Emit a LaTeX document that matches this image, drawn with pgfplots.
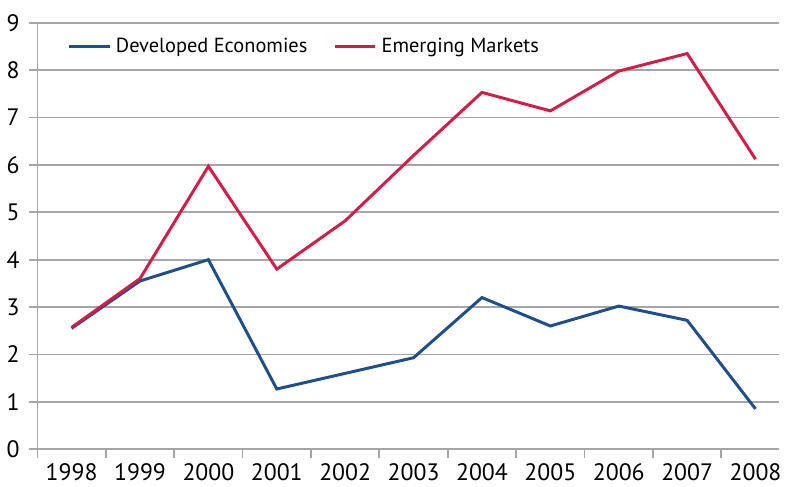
\documentclass[border=0pt]{standalone}
\usepackage{pgfplots}
\pgfplotsset{compat=1.18}
\usepackage{fontspec}
\setmainfont{PT Sans}
\definecolor{devblue}{RGB}{31,78,140}
\definecolor{emred}{RGB}{208,30,74}
\definecolor{gridgray}{RGB}{166,166,166}
\begin{document}
\begin{tikzpicture}
\begin{axis}[
  scale only axis,
  width=375pt, height=215.5pt,
  xmin=-0.5, xmax=10.35,
  ymin=0, ymax=9,
  ytick={0,1,...,9},
  xtick={-0.5,0.5,...,9.5},
  xticklabels={},
  extra x ticks={0,1,...,10},
  extra x tick labels={1998,1999,2000,2001,2002,2003,2004,2005,2006,2007,2008},
  extra x tick style={major tick length=0pt, grid=none},
  axis x line*=bottom,
  axis y line*=left,
  axis line style={gridgray, line width=0.9pt},
  tick style={gridgray, line width=0.9pt},
  major tick length=4.5pt,
  tick align=outside,
  ymajorgrids,
  major grid style={gridgray, line width=0.9pt},
  tick label style={font=\fontsize{12}{14}\selectfont, black},
  /pgf/number format/assume math mode=true,
  yticklabel style={xshift=-1pt},
  xticklabel style={yshift=-3.5pt},
  legend style={at={(rel axis cs:0.04,0.944)}, anchor=west, draw=none, fill=none,
    inner sep=0pt, font=\fontsize{10.3}{13}\selectfont, legend columns=2,
    /tikz/every even column/.append style={column sep=11pt}},
  legend image code/.code={\draw[#1] (0pt,0pt) -- (20.5pt,0pt); \path (21pt,0pt);},
  clip=false,
]
\addplot[devblue, line width=1.5pt] coordinates {
  (0,2.55) (1,3.55) (2,4.0) (3,1.27) (4,1.6) (5,1.93) (6,3.2) (7,2.6) (8,3.02) (9,2.72) (10,0.85)};
\addlegendentry{Developed Economies}
\addplot[emred, line width=1.5pt] coordinates {
  (0,2.57) (1,3.6) (2,5.97) (3,3.8) (4,4.82) (5,6.2) (6,7.53) (7,7.14) (8,7.98) (9,8.35) (10,6.12)};
\addlegendentry{Emerging Markets}
\end{axis}
\path (current axis.north west) ++(0,11.5pt) coordinate (top);
\path (top) -- (current axis.north east);
\end{tikzpicture}
\end{document}
